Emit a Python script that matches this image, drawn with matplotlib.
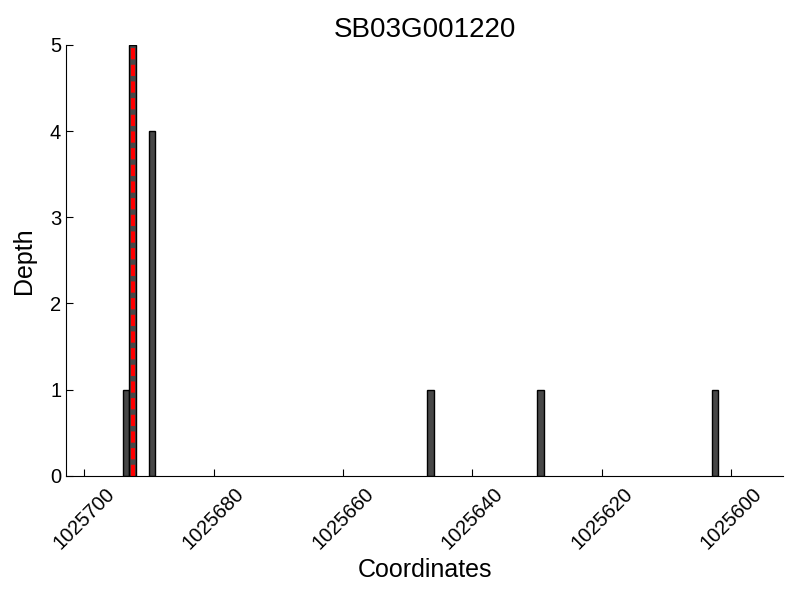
import matplotlib
matplotlib.use("Agg")
import matplotlib.pyplot as plt

# read-depth per coordinate
positions = [1025693, 1025692, 1025689, 1025646, 1025629, 1025602]
depths = [1, 5, 4, 1, 1, 1]
site = 1025692.5
gene = "SB03G001220"
xticks = [1025700, 1025680, 1025660, 1025640, 1025620, 1025600]

plt.rcParams['font.family'] = ['Liberation Sans', 'DejaVu Sans']

fig = plt.figure(figsize=(8, 6), dpi=100)
ax = fig.add_axes([0.0825, 0.207, 0.8965, 0.718])

ax.bar(positions, depths, width=1, align='edge', color='#474747',
       edgecolor='black', linewidth=1)
ax.axvline(site, color='red', linestyle='--', linewidth=3, dashes=(2.7, 1.3))

ax.set_xlim(1025702.8, 1025592)
ax.set_ylim(0, 5)
ax.set_xticks(xticks)
ax.set_xticklabels([str(t) for t in xticks], rotation=45, ha='center')
ax.set_yticks(range(6))

for s in ['top', 'right']:
    ax.spines[s].set_visible(False)
ax.tick_params(direction='in', labelsize=14.5, length=5)
ax.tick_params(axis='x', pad=6)

ax.set_title(gene, fontsize=20)
ax.set_xlabel("Coordinates", fontsize=18)
ax.set_ylabel("Depth", fontsize=18, labelpad=10)

fig.savefig("out.png", dpi=100)
